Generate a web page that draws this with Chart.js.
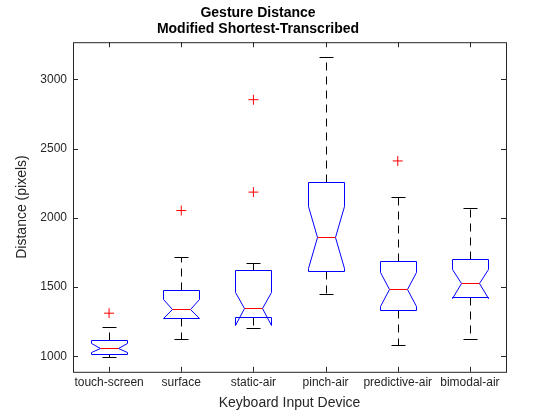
<!DOCTYPE html>
<html>
<head>
<script src="https://cdn.jsdelivr.net/npm/chart.js@4"></script>
<style>body{margin:0;background:#fff}#c{display:block}</style>
</head>
<body>
<canvas id="c" width="560" height="420"></canvas>
<script>
const categories = ['touch-screen', 'surface', 'static-air', 'pinch-air', 'predictive-air', 'bimodal-air'];
const whiskerLow = [993, 1123, 1203, 1449, 1082, 1123];
const q1 = [1017, 1280, 1283, 1616, 1333, 1428];
const median = [1058, 1341, 1350, 1862, 1488, 1529];
const q3 = [1116, 1478, 1626, 2261, 1688, 1703];
const whiskerHigh = [1210, 1717, 1674, 3159, 2152, 2072];
const notchLow = [1029, 1275, 1227, 1636, 1367, 1425];
const notchHigh = [1097, 1411, 1464, 2087, 1609, 1633];
const outliers = [{x: 1, y: 1312}, {x: 2, y: 2053}, {x: 3, y: 2853}, {x: 3, y: 2186}, {x: 5, y: 2411}];
const yTicks = [1000, 1500, 2000, 2500, 3000];

// draws the notched boxes, whiskers and the axes frame with inward ticks
const boxPlugin = {
    id: 'boxes',
    afterDatasetsDraw(chart) {
        const ctx = chart.ctx, x = chart.scales.x, y = chart.scales.y, a = chart.chartArea;
        ctx.save();
        ctx.lineWidth = 1;
        categories.forEach((c, i) => {
            const cx = Math.round(x.getPixelForValue(i + 1)) + 0.5;
            const hw = 18, nw = 9, cap = 7;
            const py = v => Math.round(y.getPixelForValue(v)) + 0.5;
            // whiskers
            ctx.strokeStyle = '#000';
            ctx.setLineDash([8, 6]);
            ctx.beginPath();
            ctx.moveTo(cx, py(q3[i])); ctx.lineTo(cx, py(whiskerHigh[i]));
            ctx.moveTo(cx, py(q1[i])); ctx.lineTo(cx, py(whiskerLow[i]));
            ctx.stroke();
            ctx.setLineDash([]);
            ctx.beginPath();
            ctx.moveTo(cx - cap, py(whiskerHigh[i])); ctx.lineTo(cx + cap, py(whiskerHigh[i]));
            ctx.moveTo(cx - cap, py(whiskerLow[i])); ctx.lineTo(cx + cap, py(whiskerLow[i]));
            ctx.stroke();
            // notched box
            ctx.strokeStyle = '#0000ff';
            ctx.beginPath();
            ctx.moveTo(cx - hw, py(q3[i]));
            ctx.lineTo(cx + hw, py(q3[i]));
            ctx.lineTo(cx + hw, py(notchHigh[i]));
            ctx.lineTo(cx + nw, py(median[i]));
            ctx.lineTo(cx + hw, py(notchLow[i]));
            ctx.lineTo(cx + hw, py(q1[i]));
            ctx.lineTo(cx - hw, py(q1[i]));
            ctx.lineTo(cx - hw, py(notchLow[i]));
            ctx.lineTo(cx - nw, py(median[i]));
            ctx.lineTo(cx - hw, py(notchHigh[i]));
            ctx.closePath();
            ctx.stroke();
            ctx.strokeStyle = '#ff0000';
            ctx.beginPath();
            ctx.moveTo(cx - nw, py(median[i])); ctx.lineTo(cx + nw, py(median[i]));
            ctx.stroke();
        });
        // frame and ticks
        ctx.strokeStyle = '#262626';
        ctx.strokeRect(a.left + 0.5, a.top + 0.5, a.right - a.left, a.bottom - a.top);
        ctx.beginPath();
        yTicks.forEach(v => {
            const p = Math.round(y.getPixelForValue(v)) + 0.5;
            ctx.moveTo(a.left, p); ctx.lineTo(a.left + 5, p);
            ctx.moveTo(a.right, p); ctx.lineTo(a.right - 5, p);
        });
        categories.forEach((c, i) => {
            const p = Math.round(x.getPixelForValue(i + 1)) + 0.5;
            ctx.moveTo(p, a.bottom); ctx.lineTo(p, a.bottom - 5);
            ctx.moveTo(p, a.top); ctx.lineTo(p, a.top + 5);
        });
        ctx.stroke();
        ctx.restore();
    }
};

const font = 'Liberation Sans, Arial, sans-serif';
new Chart(document.getElementById('c'), {
    type: 'scatter',
    data: {
        datasets: [{
            data: outliers,
            pointStyle: 'cross',
            radius: 5,
            borderColor: '#ff0000',
            borderWidth: 1
        }]
    },
    options: {
        responsive: false,
        animation: false,
        layout: {padding: {left: 10, right: 54, top: 0, bottom: 4}},
        plugins: {
            legend: {display: false},
            tooltip: {enabled: false},
            title: {
                display: true,
                text: ['Gesture Distance', 'Modified Shortest-Transcribed'],
                color: '#000',
                font: {family: font, size: 14, weight: 'bold', lineHeight: 1.15},
                padding: {top: 5, bottom: 5}
            }
        },
        scales: {
            x: {
                type: 'linear', min: 0.5, max: 6.5,
                afterBuildTicks: s => { s.ticks = categories.map((c, i) => ({value: i + 1})); },
                ticks: {callback: v => categories[v - 1], color: '#262626', font: {family: font, size: 12}, maxRotation: 0, padding: 4},
                grid: {display: false, drawTicks: false},
                border: {display: false},
                title: {display: true, text: 'Keyboard Input Device', color: '#262626', font: {family: font, size: 14}, padding: {top: 1}}
            },
            y: {
                min: 889, max: 3268,
                afterBuildTicks: s => { s.ticks = yTicks.map(v => ({value: v})); },
                afterFit: s => { s.width = 63; },
                ticks: {callback: v => String(v), color: '#262626', font: {family: font, size: 12}, padding: 6},
                grid: {display: false, drawTicks: false},
                border: {display: false},
                title: {display: true, text: 'Distance (pixels)', color: '#262626', font: {family: font, size: 14}, padding: {bottom: 2}}
            }
        }
    },
    plugins: [boxPlugin]
});
</script>
</body>
</html>
